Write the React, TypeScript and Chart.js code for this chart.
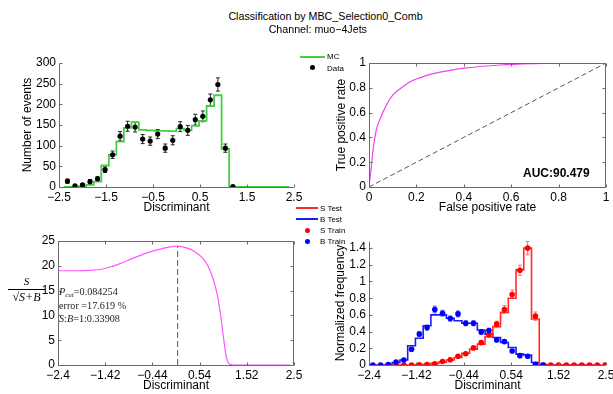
import React, { useEffect, useRef } from 'react';
import { Chart, registerables } from 'chart.js';

Chart.register(...registerables);

// ---------------- DATA ----------------
const titleLine1 = 'Classification by MBC_Selection0_Comb';
const titleLine2 = 'Channel: muo\u22124Jets';

// histogram bin edges (30 bins) and bin centres (31 points)
const binEdges = [-2.4, -2.24, -2.08, -1.92, -1.76, -1.6, -1.44, -1.28, -1.12, -0.96, -0.8, -0.64, -0.48, -0.32, -0.16, 0, 0.16, 0.32, 0.48, 0.64, 0.8, 0.96, 1.12, 1.28, 1.44, 1.6, 1.76, 1.92, 2.08, 2.24, 2.4];
const binCenters = [-2.32, -2.16, -2.0, -1.84, -1.68, -1.52, -1.36, -1.2, -1.04, -0.88, -0.72, -0.56, -0.4, -0.24, -0.08, 0.08, 0.24, 0.4, 0.56, 0.72, 0.88, 1.04, 1.2, 1.36, 1.52, 1.68, 1.84, 2.0, 2.16, 2.32, 2.48];

// top-left: MC vs Data
const mcCounts = [0, 1, 2, 5, 13, 52, 78, 110, 143, 157, 138, 137, 136, 136, 135, 141, 137, 148, 160, 196, 222, 92, 0, 0, 0, 0, 0, 0, 0, 0];
const dataCounts = [14, 3, 5, 13, 20, 42, 78, 123, 147, 145, 116, 111, 128, 94, 113, 146, 137, 163, 171, 211, 248, 94, 1];
const dataErrors = [5, 3, 3, 5, 5, 7, 9, 11, 12, 12, 11, 10, 11, 10, 11, 12, 12, 13, 13, 14, 16, 10, 1];
const tlXTicks = [-2.5, -1.5, -0.5, 0.5, 1.5, 2.5];
const tlXLabels = ['\u22122.5', '\u22121.5', '\u22120.5', '0.5', '1.5', '2.5'];
const tlYTicks = [0, 50, 100, 150, 200, 250, 300];
const tlYLabels = ['0', '50', '100', '150', '200', '250', '300'];

// top-right: ROC
const rocFpr = [0, 0.003, 0.01, 0.017, 0.031, 0.045, 0.073, 0.1, 0.13, 0.172, 0.214, 0.27, 0.34, 0.41, 0.553, 0.694, 0.835, 1];
const rocTpr = [0, 0.05, 0.16, 0.3, 0.46, 0.54, 0.66, 0.74, 0.79, 0.847, 0.88, 0.914, 0.94, 0.96, 0.984, 0.995, 1, 1];
const unitTicks = [0, 0.2, 0.4, 0.6, 0.8, 1];
const unitLabels = ['0', '0.2', '0.4', '0.6', '0.8', '1'];
const aucText = 'AUC:90.479';

// bottom-left: significance
const sigX = [-2.4, -2.0, -1.7, -1.5, -1.3, -1.1, -0.85, -0.55, -0.3, -0.1, 0.084, 0.27, 0.45, 0.6, 0.7, 0.8, 0.9, 0.97, 1.03, 1.08, 1.13, 1.2, 1.3, 2.42];
const sigY = [19.0, 19.0, 19.1, 19.3, 19.8, 20.5, 21.5, 22.6, 23.3, 23.75, 23.95, 23.6, 22.8, 21.6, 20.2, 18.0, 14.5, 10.5, 6.0, 2.5, 0.5, 0.05, 0, 0];
const cutX = 0.084254;
const cutPeak = 23.95;
const discTicks = [-2.4, -1.42, -0.44, 0.54, 1.52, 2.5];
const discLabels = ['\u22122.4', '\u22121.42', '\u22120.44', '0.54', '1.52', '2.5'];
const sigYTicks = [0, 5, 10, 15, 20, 25];
const sigYLabels = ['0', '5', '10', '15', '20', '25'];

// bottom-right: normalized S / B distributions
const sTest = [0, 0, 0, 0, 0, 0, 0.003, 0.008, 0.02, 0.035, 0.06, 0.09, 0.14, 0.19, 0.25, 0.34, 0.46, 0.63, 0.8, 1.14, 1.4, 0.55, 0, 0, 0, 0, 0, 0, 0, 0];
const bTest = [0, 0, 0.005, 0.03, 0.06, 0.23, 0.32, 0.47, 0.6, 0.6, 0.56, 0.53, 0.5, 0.5, 0.42, 0.37, 0.33, 0.27, 0.21, 0.13, 0.12, 0.03, 0.005, 0, 0, 0, 0, 0, 0, 0];
const sTrain: (number | null)[] = [null, null, null, 0, 0, 0, 0.003, 0.006, 0.014, 0.042, 0.062, 0.104, 0.135, 0.205, 0.268, 0.364, 0.49, 0.665, 0.845, 1.135, 1.4, 0.585, 0, 0, 0, 0, 0, 0, 0, 0, 0];
const sTrainErr = [0, 0, 0, 0, 0, 0, 0.003, 0.004, 0.006, 0.01, 0.012, 0.015, 0.017, 0.02, 0.025, 0.03, 0.035, 0.045, 0.05, 0.06, 0.08, 0.05, 0, 0, 0, 0, 0, 0, 0, 0, 0];
const bTrain: (number | null)[] = [0, 0, 0.005, 0.036, 0.06, 0.188, 0.372, 0.448, 0.665, 0.62, 0.556, 0.612, 0.5, 0.5, 0.396, 0.412, 0.3, 0.28, 0.168, 0.112, 0.104, 0.008, 0];
const bTrainErr = [0, 0, 0.004, 0.01, 0.012, 0.02, 0.03, 0.03, 0.04, 0.035, 0.03, 0.035, 0.03, 0.03, 0.028, 0.028, 0.024, 0.022, 0.018, 0.014, 0.014, 0.004, 0];
const nfYTicks = [0, 0.2, 0.4, 0.6, 0.8, 1, 1.2, 1.4];
const nfYLabels = ['0', '0.2', '0.4', '0.6', '0.8', '1', '1.2', '1.4'];

// ---------------- STYLE ----------------
const FONT = "'Liberation Sans', Arial, Helvetica, sans-serif";
const SERIF = "'Liberation Serif', 'Times New Roman', serif";
const AXIS_COLOR = '#6a6a6a';
const TICK_LEN = 3;
const GREEN = '#41d041';
const MAGENTA = '#ee44ee';
const RED = '#ff0000';
const BLUE = '#0000ff';
const S_LINE = '#ff2a2a';
const B_LINE = '#1a1aff';

Chart.defaults.font.family = FONT;
Chart.defaults.color = '#000';

type Pt = { x: number; y: number; err?: number };

function stepPoints(values: number[]): Pt[] {
  const pts: Pt[] = values.map((v, i) => ({ x: binEdges[i], y: v }));
  pts.push({ x: binEdges[values.length], y: values[values.length - 1] });
  return pts;
}

function pointSeries(values: (number | null)[], errs: number[]): Pt[] {
  const out: Pt[] = [];
  values.forEach((v, i) => {
    if (v !== null) out.push({ x: binCenters[i], y: v, err: errs[i] });
  });
  return out;
}

function xy(xs: number[], ys: number[]): Pt[] {
  return xs.map((x, i) => ({ x, y: ys[i] }));
}

const framePlugin = {
  id: 'frame',
  afterDatasetsDraw(chart: any, _args: any, opts: any) {
    const { ctx, chartArea: a } = chart;
    const xs = chart.scales.x;
    const ys = chart.scales.y;
    const box = !!opts.box;
    ctx.save();
    ctx.strokeStyle = AXIS_COLOR;
    ctx.lineWidth = 1;
    ctx.beginPath();
    const l = a.left + 0.5, b = a.bottom + 0.5, t = a.top + 0.5, r = a.right - 0.5;
    ctx.moveTo(l, t);
    ctx.lineTo(l, b);
    ctx.lineTo(r, b);
    if (box) {
      ctx.lineTo(r, t);
      ctx.lineTo(l, t);
    }
    xs.ticks.forEach((tk: any) => {
      const px = Math.round(xs.getPixelForValue(tk.value)) + 0.5;
      ctx.moveTo(px, b);
      ctx.lineTo(px, b - TICK_LEN);
      if (box) {
        ctx.moveTo(px, t);
        ctx.lineTo(px, t + TICK_LEN);
      }
    });
    ys.ticks.forEach((tk: any) => {
      const py = Math.round(ys.getPixelForValue(tk.value)) + 0.5;
      ctx.moveTo(l, py);
      ctx.lineTo(l + TICK_LEN, py);
      if (box) {
        ctx.moveTo(r, py);
        ctx.lineTo(r - TICK_LEN, py);
      }
    });
    ctx.stroke();
    ctx.restore();
  },
};

const errorBarPlugin = {
  id: 'errorBars',
  beforeDatasetsDraw(chart: any) {
    const { ctx } = chart;
    const xs = chart.scales.x;
    const ys = chart.scales.y;
    chart.data.datasets.forEach((ds: any) => {
      if (!ds.errorBarColor) return;
      ctx.save();
      ctx.strokeStyle = ds.errorBarColor;
      ctx.lineWidth = 1;
      ctx.beginPath();
      ds.data.forEach((p: Pt) => {
        if (!p.err) return;
        const x = xs.getPixelForValue(p.x);
        const y1 = ys.getPixelForValue(p.y - p.err);
        const y2 = ys.getPixelForValue(p.y + p.err);
        ctx.moveTo(x, y1);
        ctx.lineTo(x, y2);
        ctx.moveTo(x - 2, y1);
        ctx.lineTo(x + 2, y1);
        ctx.moveTo(x - 2, y2);
        ctx.lineTo(x + 2, y2);
      });
      ctx.stroke();
      ctx.restore();
    });
  },
};

interface Frame { cx: number; cy: number; cw: number; ch: number; L: number; T: number; R: number; B: number; padL: number }

interface AxisSpec {
  min: number; max: number; ticks: number[]; labels: string[]; title?: string;
}

function makeOptions(f: Frame, xa: AxisSpec, ya: AxisSpec, box: boolean) {
  const yWidth = f.L - f.cx - f.padL;
  const xHeight = f.cy + f.ch - f.B;
  return {
    responsive: false,
    animation: false as const,
    events: [] as any[],
    layout: { padding: { left: f.padL, top: f.T - f.cy, right: f.cx + f.cw - f.R, bottom: 0 } },
    plugins: {
      legend: { display: false },
      tooltip: { enabled: false },
      frame: { box },
    },
    scales: {
      x: {
        type: 'linear' as const,
        min: xa.min,
        max: xa.max,
        grid: { display: false, drawTicks: false },
        border: { display: false },
        afterBuildTicks: (s: any) => { s.ticks = xa.ticks.map((v) => ({ value: v })); },
        afterFit: (s: any) => { s.height = xHeight; s.paddingLeft = 0; s.paddingRight = 0; },
        ticks: {
          autoSkip: false, maxRotation: 0, minRotation: 0, padding: 3, color: '#000',
          font: { size: 12 },
          callback: (_v: any, i: number) => xa.labels[i],
        },
        title: { display: !!xa.title, text: xa.title || '', color: '#000', font: { size: 12 }, padding: { top: 0, bottom: 0 } },
      },
      y: {
        type: 'linear' as const,
        min: ya.min,
        max: ya.max,
        grid: { display: false, drawTicks: false },
        border: { display: false },
        afterBuildTicks: (s: any) => { s.ticks = ya.ticks.map((v) => ({ value: v })); },
        afterFit: (s: any) => { s.width = yWidth; s.paddingTop = 0; s.paddingBottom = 0; },
        ticks: {
          autoSkip: false, padding: 3, color: '#000',
          font: { size: 12 },
          callback: (_v: any, i: number) => ya.labels[i],
        },
        title: { display: !!ya.title, text: ya.title || '', color: '#000', font: { size: 12 }, padding: { top: 4, bottom: 0 } },
      },
    },
  };
}

const frameTL: Frame = { cx: 0, cy: 40, cw: 306, ch: 175, L: 59, T: 63, R: 294, B: 187, padL: 16 };
const frameTR: Frame = { cx: 300, cy: 40, cw: 313, ch: 175, L: 369, T: 63, R: 606, B: 187, padL: 30 };
const frameBL: Frame = { cx: 0, cy: 218, cw: 306, ch: 175, L: 58, T: 241, R: 294, B: 365, padL: 4 };
const frameBR: Frame = { cx: 300, cy: 218, cw: 313, ch: 175, L: 369, T: 241, R: 606, B: 365, padL: 29 };

function configTL(): any {
  return {
    type: 'line',
    data: {
      datasets: [
        {
          label: 'Data', data: pointSeries(dataCounts, dataErrors), showLine: false,
          pointRadius: 2.6, pointBackgroundColor: '#000', pointBorderWidth: 0,
          errorBarColor: '#222', order: 0,
        },
        {
          label: 'MC', data: stepPoints(mcCounts), stepped: true, borderColor: GREEN,
          borderWidth: 1.8, pointRadius: 0, fill: false, order: 1,
        },
      ],
    },
    options: makeOptions(frameTL,
      { min: -2.5, max: 2.5, ticks: tlXTicks, labels: tlXLabels, title: 'Discriminant' },
      { min: 0, max: 300, ticks: tlYTicks, labels: tlYLabels, title: 'Number of events' }, false),
    plugins: [framePlugin, errorBarPlugin],
  };
}

function configTR(): any {
  return {
    type: 'line',
    data: {
      datasets: [
        {
          label: 'ROC', data: xy(rocFpr, rocTpr), borderColor: MAGENTA, borderWidth: 1.2,
          pointRadius: 0, cubicInterpolationMode: 'monotone', fill: false, order: 0,
        },
        {
          label: 'random', data: xy([0, 1], [0, 1]), borderColor: '#555', borderWidth: 1,
          borderDash: [5, 3], pointRadius: 0, fill: false, order: 1,
        },
      ],
    },
    options: makeOptions(frameTR,
      { min: 0, max: 1, ticks: unitTicks, labels: unitLabels, title: 'False positive rate' },
      { min: 0, max: 1, ticks: unitTicks, labels: unitLabels, title: 'True positive rate' }, true),
    plugins: [framePlugin],
  };
}

function configBL(): any {
  return {
    type: 'line',
    data: {
      datasets: [
        {
          label: 'significance', data: xy(sigX, sigY), borderColor: '#ff55ff', borderWidth: 1.2,
          pointRadius: 0, cubicInterpolationMode: 'monotone', fill: false, order: 0,
        },
        {
          label: 'cut', data: xy([cutX, cutX], [0, cutPeak]), borderColor: '#555', borderWidth: 1,
          borderDash: [6, 3], pointRadius: 0, fill: false, order: 1,
        },
      ],
    },
    options: makeOptions(frameBL,
      { min: -2.4, max: 2.5, ticks: discTicks, labels: discLabels, title: 'Discriminant' },
      { min: 0, max: 25, ticks: sigYTicks, labels: sigYLabels }, true),
    plugins: [framePlugin],
  };
}

function configBR(): any {
  return {
    type: 'line',
    data: {
      datasets: [
        {
          label: 'B Train', data: pointSeries(bTrain, bTrainErr), showLine: false,
          pointRadius: 2.8, pointBackgroundColor: BLUE, pointBorderWidth: 0,
          errorBarColor: '#5a5aff', order: 0,
        },
        {
          label: 'S Train', data: pointSeries(sTrain, sTrainErr), showLine: false,
          pointRadius: 2.8, pointBackgroundColor: RED, pointBorderWidth: 0,
          errorBarColor: '#ff6a6a', order: 1,
        },
        {
          label: 'S Test', data: stepPoints(sTest), stepped: true, borderColor: S_LINE,
          borderWidth: 1.6, pointRadius: 0, fill: false, order: 2,
        },
        {
          label: 'B Test', data: stepPoints(bTest), stepped: true, borderColor: B_LINE,
          borderWidth: 1.6, pointRadius: 0, fill: false, order: 3,
        },
      ],
    },
    options: makeOptions(frameBR,
      { min: -2.4, max: 2.5, ticks: discTicks, labels: discLabels, title: 'Discriminant' },
      { min: 0, max: 1.485, ticks: nfYTicks, labels: nfYLabels, title: 'Normalized frequency' }, false),
    plugins: [framePlugin, errorBarPlugin],
  };
}

function Panel({ frame, make }: { frame: Frame; make: () => any }) {
  const ref = useRef<HTMLCanvasElement>(null);
  useEffect(() => {
    const chart = new Chart(ref.current as HTMLCanvasElement, make());
    return () => chart.destroy();
  }, []);
  return (
    <canvas
      ref={ref}
      width={frame.cw}
      height={frame.ch}
      style={{ position: 'absolute', left: frame.cx, top: frame.cy, width: frame.cw, height: frame.ch }}
    />
  );
}

const abs = (left: number, top: number, extra: React.CSSProperties = {}): React.CSSProperties => ({
  position: 'absolute', left, top, whiteSpace: 'nowrap', ...extra,
});

const legendText: React.CSSProperties = { fontSize: 8, lineHeight: '9px', fontFamily: FONT, color: '#000' };
const annText: React.CSSProperties = { fontSize: 10.2, lineHeight: '12px', fontFamily: SERIF, color: '#222' };

export default function App() {
  return (
    <div style={{ position: 'absolute', left: 0, top: 0, width: 613, height: 394, overflow: 'hidden', background: '#fff', fontFamily: FONT }}>
      <Panel frame={frameTL} make={configTL} />
      <Panel frame={frameTR} make={configTR} />
      <Panel frame={frameBL} make={configBL} />
      <Panel frame={frameBR} make={configBR} />

      {/* title */}
      <div style={abs(175.5, 10, { width: 300, textAlign: 'center', fontSize: 10.7, lineHeight: '12px' })}>{titleLine1}</div>
      <div style={abs(167.8, 23.3, { width: 300, textAlign: 'center', fontSize: 10.7, lineHeight: '12px' })}>{titleLine2}</div>

      {/* top-left legend */}
      <div style={abs(300, 56, { width: 25, height: 2, background: GREEN })} />
      <div style={abs(327, 52, legendText)}>MC</div>
      <div style={abs(310, 65, { width: 5, height: 5, borderRadius: '50%', background: '#000' })} />
      <div style={abs(327, 63.5, legendText)}>Data</div>

      {/* bottom-right legend */}
      <div style={abs(296, 207, { width: 22, height: 2, background: S_LINE })} />
      <div style={abs(320, 203.5, legendText)}>S Test</div>
      <div style={abs(296, 218, { width: 22, height: 2, background: B_LINE })} />
      <div style={abs(320, 214.5, legendText)}>B Test</div>
      <div style={abs(304.8, 227.5, { width: 5, height: 5, borderRadius: '50%', background: RED })} />
      <div style={abs(320, 225.5, legendText)}>S Train</div>
      <div style={abs(304.8, 238.5, { width: 5, height: 5, borderRadius: '50%', background: BLUE })} />
      <div style={abs(320, 236.5, legendText)}>B Train</div>

      {/* AUC */}
      <div style={abs(523, 166, { fontSize: 12, lineHeight: '14px', fontWeight: 'bold' })}>{aucText}</div>

      {/* S/sqrt(S+B) y label */}
      <div style={abs(8, 276, { width: 37, textAlign: 'center', fontSize: 11, lineHeight: '11px', fontFamily: SERIF, fontStyle: 'italic' })}>S</div>
      <div style={abs(8, 288.5, { width: 37, height: 1, background: '#000' })} />
      <div style={abs(6, 291, { width: 41, textAlign: 'center', fontSize: 12, lineHeight: '12px', fontFamily: SERIF })}>
        {'\u221A'}<span style={{ borderTop: '1px solid #000', fontStyle: 'italic' }}>S+B</span>
      </div>

      {/* cut annotations */}
      <div style={abs(59, 285.7, annText)}>
        <i>P</i><span style={{ fontSize: 7, fontStyle: 'italic', position: 'relative', top: 2 }}>cut</span>=0.084254
      </div>
      <div style={abs(59, 300, annText)}>error =17.619 %</div>
      <div style={abs(59, 312.7, annText)}><i>S</i>:<i>B</i>=1:0.33908</div>
    </div>
  );
}
